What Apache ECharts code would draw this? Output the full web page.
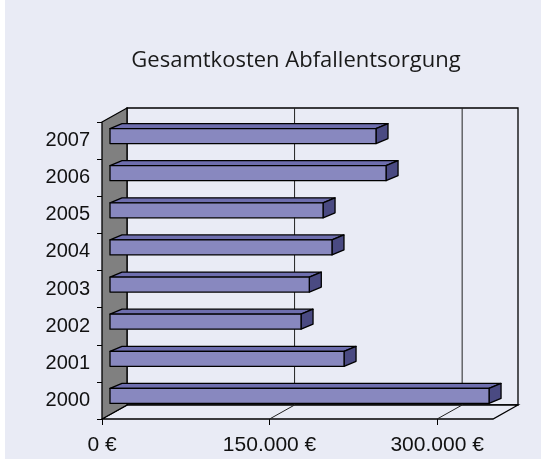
<!DOCTYPE html>
<html>
<head>
<meta charset="utf-8">
<script src="https://cdn.jsdelivr.net/npm/echarts@6/dist/echarts.min.js"></script>
<style>
html,body{margin:0;padding:0;background:#ffffff;}
#chart{width:541px;height:459px;}
</style>
</head>
<body>
<div id="chart"></div>
<script>
var titleText = 'Gesamtkosten Abfallentsorgung';
var years = ['2000', '2001', '2002', '2003', '2004', '2005', '2006', '2007'];
var costs = [339300, 209500, 171000, 178400, 198700, 190700, 247100, 238100];
var xTicks = [0, 150000, 300000];
var xMax = 350000;

var BG = '#E9EBF5';
var D = [25, -14];      // wall depth offset
var BD = [12, -5];      // bar depth offset
var BF = [8, -4.5];     // bar front-face offset from front plane

function fmtEuro(v) {
  var s = String(Math.round(v)).replace(/\B(?=(\d{3})+(?!\d))/g, '.');
  return s + ' \u20AC';
}

var chart = echarts.init(document.getElementById('chart'), null, {renderer: 'canvas'});

var option = {
  backgroundColor: BG,
  animation: false,
  graphic: [
    {type: 'rect', shape: {x: 0, y: 0, width: 5, height: 459}, style: {fill: '#ffffff'}, z: 100},
    {type: 'text', x: 296, y: 61, style: {text: titleText, fill: '#1a1a1a', font: '22px "Open Sans"', textAlign: 'center', textVerticalAlign: 'middle'}, z: 100}
  ],
  grid: {left: 102, right: 48, top: 122, bottom: 40, containLabel: false},
  xAxis: {
    type: 'value', min: 0, max: xMax, interval: 150000,
    axisLine: {show: false},
    splitLine: {show: false},
    axisTick: {show: true, length: 6, lineStyle: {color: '#000', width: 1}, customValues: xTicks},
    axisLabel: {show: true, margin: 16, color: '#111', fontFamily: '"Liberation Sans", Arial, sans-serif', fontSize: 21,
      customValues: xTicks, formatter: function (v) { return fmtEuro(v); }}
  },
  yAxis: {
    type: 'category', data: years,
    axisLine: {show: false},
    axisTick: {show: true, length: 5, lineStyle: {color: '#000', width: 1}},
    axisLabel: {margin: 12, color: '#111', fontFamily: '"Liberation Sans", Arial, sans-serif', fontSize: 20},
    splitLine: {show: false}
  },
  series: [
    {
      type: 'custom',
      z: 1,
      data: [[0, 0]],
      encode: {y: 0, x: 1},
      renderItem: function (params, api) {
        var cs = params.coordSys;
        var L = cs.x, R = cs.x + cs.width, T = cs.y, B = cs.y + cs.height;
        var dx = D[0], dy = D[1];
        var ch = [];
        ch.push({type: 'polygon', shape: {points: [[L + dx, T + dy], [R + dx, T + dy], [R + dx, B + dy], [L + dx, B + dy]]},
          style: {fill: BG, stroke: '#000', lineWidth: 1.3}});
        ch.push({type: 'polygon', shape: {points: [[L, B], [R, B], [R + dx, B + dy], [L + dx, B + dy]]},
          style: {fill: BG, stroke: '#000', lineWidth: 1.3}});
        for (var i = 1; i < xTicks.length; i++) {
          var x = api.coord([xTicks[i], 0])[0];
          ch.push({type: 'polyline', shape: {points: [[x, B], [x + dx, B + dy], [x + dx, T + dy]]},
            style: {fill: null, stroke: '#222', lineWidth: 1}});
        }
        ch.push({type: 'polygon', shape: {points: [[L, T], [L + dx, T + dy], [L + dx, B + dy], [L, B]]},
          style: {fill: '#808080', stroke: '#000', lineWidth: 1.3}});
        return {type: 'group', children: ch};
      }
    },
    {
      type: 'custom',
      z: 2,
      encode: {y: 0, x: 1},
      data: costs.map(function (v, i) { return [i, v]; }),
      renderItem: function (params, api) {
        var idx = api.value(0), val = api.value(1);
        var p0 = api.coord([0, idx]), p1 = api.coord([val, idx]);
        var x0 = p0[0] + BF[0], x1 = p1[0] + BF[0];
        var cy = p0[1] + BF[1];
        var h = 15;
        var y0 = cy - h / 2, y1 = cy + h / 2;
        var dx = BD[0], dy = BD[1];
        var st = {stroke: '#000', lineWidth: 1.3, lineJoin: 'round'};
        return {type: 'group', children: [
          {type: 'polygon', shape: {points: [[x0, y0], [x1, y0], [x1 + dx, y0 + dy], [x0 + dx, y0 + dy]]},
            style: Object.assign({fill: '#6E6EAE'}, st)},
          {type: 'polygon', shape: {points: [[x1, y0], [x1 + dx, y0 + dy], [x1 + dx, y1 + dy], [x1, y1]]},
            style: Object.assign({fill: '#4A4A82'}, st)},
          {type: 'rect', shape: {x: x0, y: y0, width: x1 - x0, height: h},
            style: Object.assign({fill: '#8888BF'}, st)}
        ]};
      }
    }
  ]
};
chart.setOption(option);
</script>
</body>
</html>
